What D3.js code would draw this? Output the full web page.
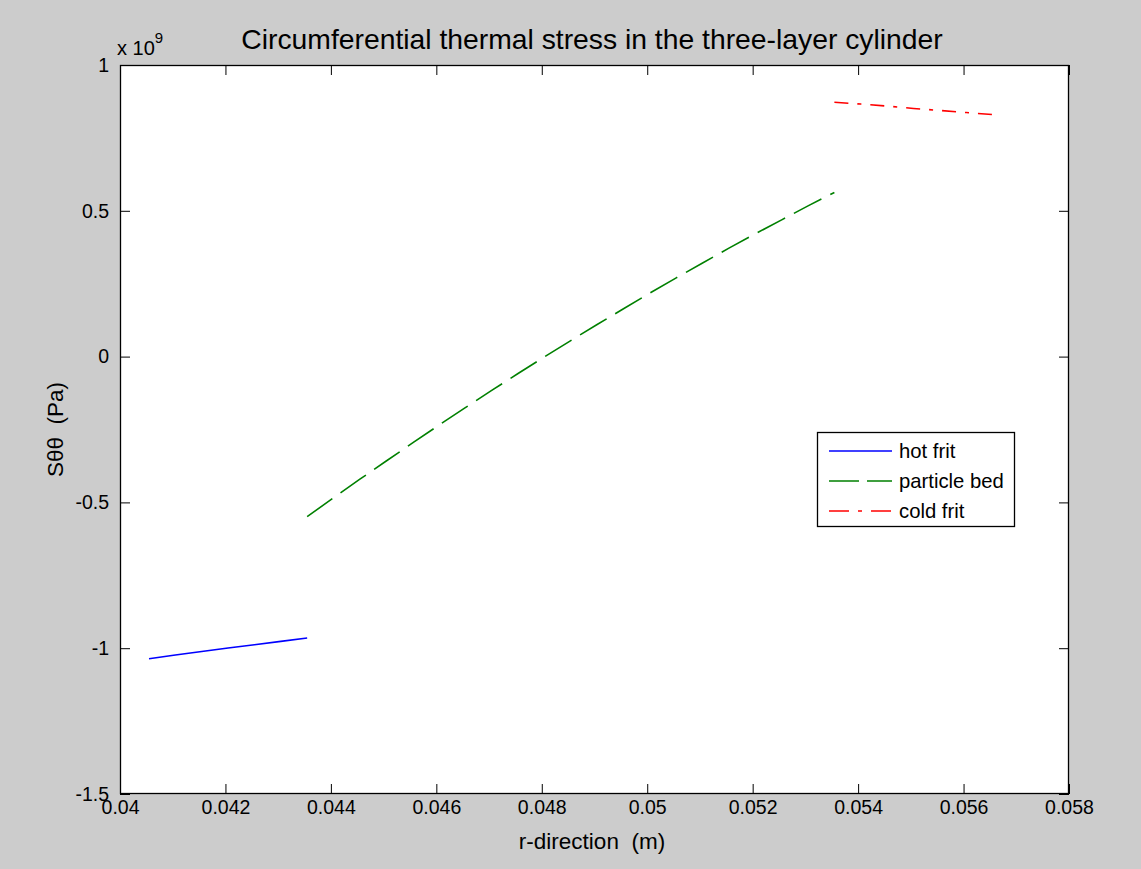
<!DOCTYPE html>
<html>
<head>
<meta charset="utf-8">
<script src="https://cdn.jsdelivr.net/npm/d3@7"></script>
<style>
  html, body { margin: 0; padding: 0; background: #cccccc; }
  svg { display: block; }
  text { font-family: "Liberation Sans", Arial, Helvetica, sans-serif; fill: #000; white-space: pre; }
</style>
</head>
<body>
<svg id="chart" width="1141" height="869"></svg>
<script>
// ---- data (r in m, stress in Pa) ----
const hotFritR = [0.04055, 0.04105, 0.04155, 0.04205, 0.04255, 0.04305, 0.04355];
const hotFritS = [-1.036e9, -1.0235e9, -1.0115e9, -0.9995e9, -0.988e9, -0.9765e9, -0.965e9];

const particleBedR = [0.04355, 0.04405, 0.04455, 0.04505, 0.04555, 0.04605, 0.04655,
  0.04705, 0.04755, 0.04805, 0.04855, 0.04905, 0.04955, 0.05005, 0.05055, 0.05105,
  0.05155, 0.05205, 0.05255, 0.05305, 0.05355];
const particleBedS = [-0.549e9, -0.484e9, -0.4205e9, -0.358e9, -0.296e9, -0.235e9, -0.175e9,
  -0.116e9, -0.058e9, -0.001e9, 0.055e9, 0.110e9, 0.164e9, 0.218e9, 0.270e9, 0.321e9,
  0.372e9, 0.421e9, 0.469e9, 0.517e9, 0.563e9];

const coldFritR = [0.05355, 0.05405, 0.05455, 0.05505, 0.05555, 0.05605, 0.05655];
const coldFritS = [0.872e9, 0.866e9, 0.859e9, 0.851e9, 0.844e9, 0.837e9, 0.830e9];

const xTicks = [0.04, 0.042, 0.044, 0.046, 0.048, 0.05, 0.052, 0.054, 0.056, 0.058];
const xTickLabels = ["0.04", "0.042", "0.044", "0.046", "0.048", "0.05", "0.052", "0.054", "0.056", "0.058"];
const yTicks = [-1.5e9, -1e9, -0.5e9, 0, 0.5e9, 1e9];
const yTickLabels = ["-1.5", "-1", "-0.5", "0", "0.5", "1"];

const seriesNames = ["hot frit", "particle bed", "cold frit"];
const seriesColors = ["#0000ff", "#008000", "#ff0000"];
const seriesDash = [null, "31,10", "14,9,4,9"];

const titleText = "Circumferential thermal stress in the three-layer cylinder";
const xLabelText = "r-direction  (m)";
const yLabelText = "S\u03B8\u03B8  (Pa)";

// ---- layout ----
const svg = d3.select("#chart");
const L = 120, R = 1069, T = 65, B = 794;

const x = d3.scaleLinear().domain([0.04, 0.058]).range([L, R]);
const y = d3.scaleLinear().domain([-1.5e9, 1e9]).range([B, T]);

svg.append("rect").attr("x", 0).attr("y", 0).attr("width", 1141).attr("height", 869).attr("fill", "#cccccc");
svg.append("rect").attr("x", L).attr("y", T).attr("width", R - L).attr("height", B - T).attr("fill", "#ffffff");

// axes
const fmtX = (d) => xTickLabels[xTicks.indexOf(d)];
const fmtY = (d) => yTickLabels[yTicks.indexOf(d)];

const gx = svg.append("g").attr("transform", `translate(0,${B})`)
  .call(d3.axisBottom(x).tickValues(xTicks).tickFormat(fmtX).tickSizeInner(-10).tickSizeOuter(0).tickPadding(6));
const gxt = svg.append("g").attr("transform", `translate(0,${T})`)
  .call(d3.axisTop(x).tickValues(xTicks).tickFormat("").tickSizeInner(-10).tickSizeOuter(0));
const gy = svg.append("g").attr("transform", `translate(${L},0)`)
  .call(d3.axisLeft(y).tickValues(yTicks).tickFormat(fmtY).tickSizeInner(-10).tickSizeOuter(0).tickPadding(11));
const gyr = svg.append("g").attr("transform", `translate(${R},0)`)
  .call(d3.axisRight(y).tickValues(yTicks).tickFormat("").tickSizeInner(-10).tickSizeOuter(0));

[gx, gxt, gy, gyr].forEach(g => {
  g.selectAll("path.domain").remove();
  g.selectAll("line").attr("stroke", "#000").attr("stroke-width", 1);
  g.selectAll("text").attr("font-size", 19.5).attr("fill", "#000")
    .style("font-family", "'Liberation Sans', Arial, sans-serif");
});

// box
svg.append("rect").attr("x", L + 0.5).attr("y", T + 0.5).attr("width", R - L - 1).attr("height", B - T - 1)
  .attr("fill", "none").attr("stroke", "#000").attr("stroke-width", 1.3);

// exponent label
const ex = svg.append("text").attr("x", 117).attr("y", 55).attr("font-size", 20);
ex.append("tspan").text("x 10");
ex.append("tspan").attr("dy", -12).attr("font-size", 15).text("9");

// series
const line = d3.line().x(d => x(d[0])).y(d => y(d[1]));
const series = [
  d3.zip(hotFritR, hotFritS),
  d3.zip(particleBedR, particleBedS),
  d3.zip(coldFritR, coldFritS)
];
series.forEach((pts, i) => {
  const p = svg.append("path").datum(pts).attr("d", line)
    .attr("fill", "none").attr("stroke", seriesColors[i]).attr("stroke-width", 1.6);
  if (seriesDash[i]) p.attr("stroke-dasharray", seriesDash[i]);
});

// title and labels
svg.append("text").attr("x", 592).attr("y", 49).attr("text-anchor", "middle")
  .attr("font-size", 28.3).text(titleText);
svg.append("text").attr("x", 592).attr("y", 849).attr("text-anchor", "middle")
  .attr("font-size", 22.5).text(xLabelText);
svg.append("text").attr("transform", `translate(63,${(T + B) / 2}) rotate(-90)`).attr("text-anchor", "middle")
  .attr("font-size", 22.5).text(yLabelText);

// legend
const lg = svg.append("g");
lg.append("rect").attr("x", 817.5).attr("y", 432.5).attr("width", 197).attr("height", 94)
  .attr("fill", "#fff").attr("stroke", "#000").attr("stroke-width", 1.3);
seriesNames.forEach((name, i) => {
  const yy = 451 + i * 30;
  const l = lg.append("line").attr("x1", 829).attr("x2", 892).attr("y1", yy).attr("y2", yy)
    .attr("stroke", seriesColors[i]).attr("stroke-width", 1.6);
  if (seriesDash[i]) l.attr("stroke-dasharray", i === 1 ? "30,8" : "20,9,4,9");
  lg.append("text").attr("x", 899).attr("y", yy + 7).attr("font-size", 20.3).text(name);
});
</script>
</body>
</html>
